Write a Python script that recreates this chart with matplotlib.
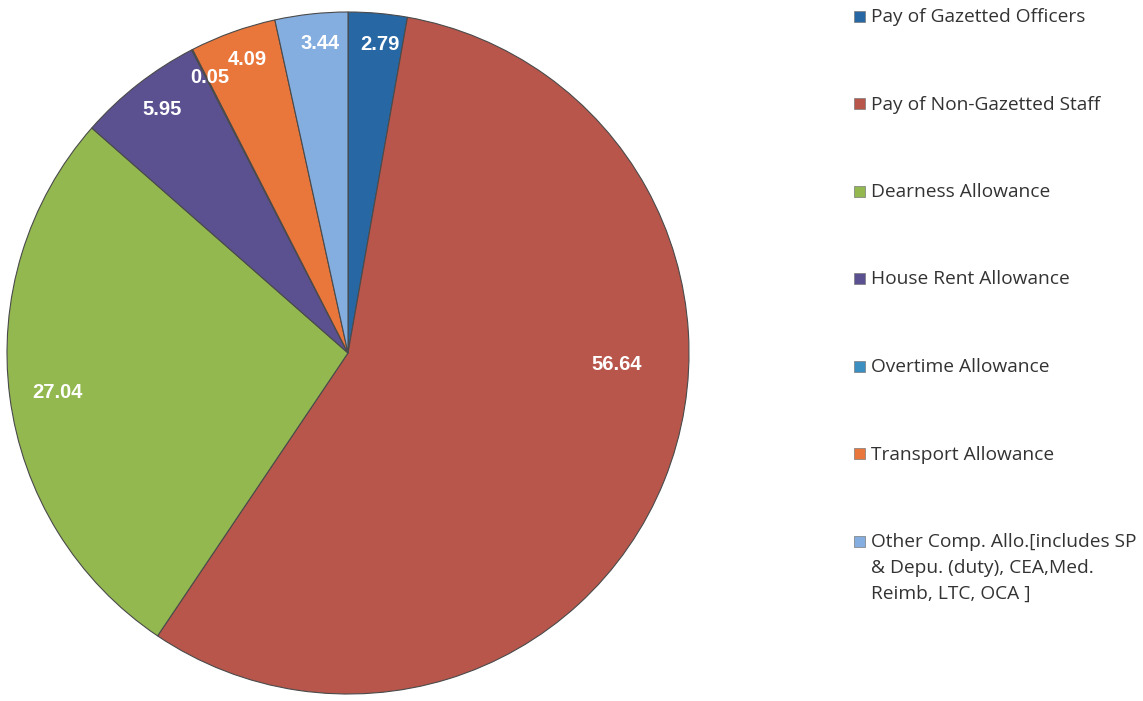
import numpy as np
import matplotlib
matplotlib.use("Agg")
import matplotlib.pyplot as plt
from matplotlib.patches import Rectangle

categories = [
    "Pay of Gazetted Officers",
    "Pay of Non-Gazetted Staff",
    "Dearness Allowance",
    "House Rent Allowance",
    "Overtime Allowance",
    "Transport Allowance",
    "Other Comp. Allo.[includes SP\n& Depu. (duty), CEA,Med.\nReimb, LTC, OCA ]",
]
values = [2.79, 56.64, 27.04, 5.95, 0.05, 4.09, 3.44]

colors = ["#2767a3", "#b8564c", "#93b84f", "#5b5190", "#3b8fc0", "#e9773b", "#84aee0"]
# label placement: fraction of radius, and angle shift from wedge middle (deg)
label_r = [0.91, 0.79, 0.86, 0.90, 0.905, 0.91, 0.91]
label_shift = [-0.9, 19.5, 0.4, -0.6, -0.6, -0.8, -1.0]

W, H = 1143, 701
fig = plt.figure(figsize=(W / 100, H / 100), dpi=100)
# pie axes: centre at about (348, 353) px, radius 341 px
cx, cy, R = 348, 353, 341
ax = fig.add_axes([(cx - R) / W, (H - cy - R) / H, 2 * R / W, 2 * R / H])

wedges, _ = ax.pie(values, colors=colors, startangle=90, counterclock=False,
                   radius=1.0, wedgeprops=dict(edgecolor="#4a4a4a", linewidth=0.8))
ax.set_xlim(-1, 1)
ax.set_ylim(-1, 1)
ax.set_aspect("auto")
ax.axis("off")

for w, v, r, s in zip(wedges, values, label_r, label_shift):
    ang = np.deg2rad((w.theta1 + w.theta2) / 2 + s)
    ax.text(r * np.cos(ang), r * np.sin(ang), f"{v:.2f}", ha="center", va="center",
            color="white", fontsize=14.5, fontweight="bold", family="Liberation Sans")

# legend, drawn by hand so the square sits on the first line of each entry
y0, step, sq = 16, 87.5, 11
for i, (lab, c) in enumerate(zip(categories, colors)):
    y = y0 + step * i
    fig.patches.append(Rectangle((854 / W, 1 - (y + sq / 2) / H), sq / W, sq / H,
                                 transform=fig.transFigure, facecolor=c,
                                 edgecolor="#7a7a7a", linewidth=0.5))
    fig.text(871 / W, 1 - (y - 8) / H, lab, ha="left", va="top",
             family="Open Sans", fontsize=13.8, color="#333333", linespacing=1.55)

fig.savefig("out.png", dpi=100)
